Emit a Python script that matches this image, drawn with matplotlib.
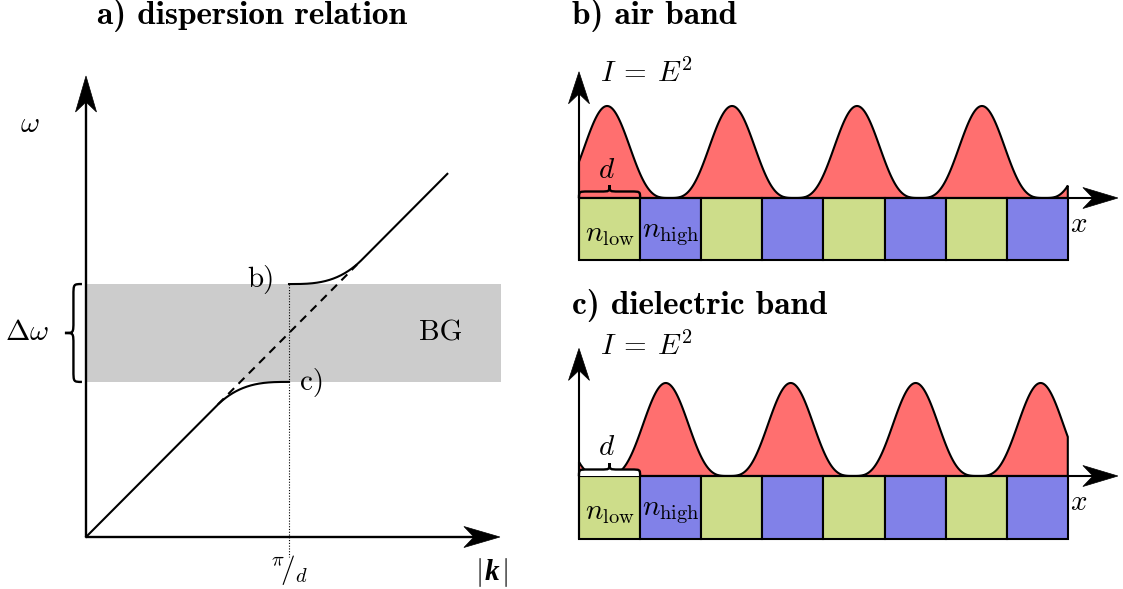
import numpy as np
import matplotlib
matplotlib.use("Agg")
import matplotlib.pyplot as plt
from matplotlib.patches import Rectangle, Polygon, PathPatch
from matplotlib.path import Path
from matplotlib.transforms import ScaledTranslation

plt.rcParams['font.family'] = 'serif'
plt.rcParams['font.serif'] = ['cmr10']
plt.rcParams['mathtext.fontset'] = 'cm'
plt.rcParams['axes.unicode_minus'] = False

W, H = 1123, 589

# dispersion relation, k in units of pi/d
k_zone = 1.0
gap_lo, gap_hi = 0.764, 1.246
k_bend = 0.36
k_max = 1.78
dash_k = [0.65, 1.335]
band_k_max = 2.045
c_light = (gap_lo + gap_hi) / 2 / k_zone

# layered stack, x in units of d
n_cells = 8
cell_colors = ['#cddd8a', '#8181e8']
cell_depth = 0.675
period = 2.045
air_peak0 = 0.46
diel_peak0 = 1.42
peak_power = 3.4

red = '#ff6f6f'
LW = 1.5

fig = plt.figure(figsize=(W / 100, H / 100), dpi=100)


def panel_axes(origin, sx, sy, xlim, ylim):
    x0, y0 = origin
    left = x0 + xlim[0] * sx
    bottom = y0 - ylim[0] * sy
    w = (xlim[1] - xlim[0]) * sx
    h = (ylim[1] - ylim[0]) * sy
    ax = fig.add_axes([left / W, 1 - bottom / H, w / W, h / H])
    ax.set_xlim(xlim)
    ax.set_ylim(ylim)
    ax.axis('off')
    return ax


def arrow_head(ax, x, y, direction, length=36, width=21, notch=10):
    dx, dy = direction
    px, py = -dy, dx
    verts = [(0, 0),
             (-dx * length + px * width / 2, -dy * length + py * width / 2),
             (-dx * (length - notch), -dy * (length - notch)),
             (-dx * length - px * width / 2, -dy * length - py * width / 2)]
    ax.add_patch(Polygon(verts, closed=True, fc='k', ec='k', lw=0.5, zorder=5,
                         transform=ScaledTranslation(x, y, ax.transData),
                         clip_on=False))


def brace(ax, p0, p1, depth, vertical=False, fill='none'):
    a = ax.transData.transform(p0)
    b = ax.transData.transform(p1)
    L = np.hypot(*(b - a))
    r = depth / 2
    s = depth * 0.7   # length taken by each curl
    uv = [(0, 0), (0, r), (0, r), (s, r),
          (L / 2 - s, r),
          (L / 2, r), (L / 2, r), (L / 2, depth),
          (L / 2, r), (L / 2, r), (L / 2 + s, r),
          (L - s, r),
          (L, r), (L, r), (L, 0)]
    C = Path.CURVE4
    codes = [Path.MOVETO, C, C, C, Path.LINETO, C, C, C, C, C, C,
             Path.LINETO, C, C, C]
    if vertical:
        verts = [(-v, u) for u, v in uv]
    else:
        verts = [(u, v) for u, v in uv]
    ax.add_patch(PathPatch(Path(verts, codes), fc=fill, ec='k', lw=LW + 0.2, zorder=6,
                           transform=ScaledTranslation(p0[0], p0[1], ax.transData),
                           clip_on=False))


def branch(k, sign):
    # smooth bend from the light line onto the flat band edge at the zone boundary
    delta = (gap_hi - gap_lo) / 2
    t = np.clip(np.abs(k - k_zone) / k_bend, 0, 1)
    h00 = 2 * t**3 - 3 * t**2 + 1
    h10 = t**3 - 2 * t**2 + t
    g = delta * h00 - c_light * k_bend * h10
    return c_light * k + sign * g


# ---- a) dispersion relation ----
ax = panel_axes((86, 537), 203, 203, (-0.45, 2.1), (-0.25, 2.3))
ax.add_patch(Rectangle((0, gap_lo), band_k_max, gap_hi - gap_lo,
                       fc='#cccccc', ec='none', zorder=0))
k_low = np.linspace(0, k_zone, 300)
k_up = np.linspace(k_zone, k_max, 300)
ax.plot(k_low, branch(k_low, -1), 'k', lw=LW, zorder=3)
ax.plot(k_up, branch(k_up, +1), 'k', lw=LW, zorder=3)
ax.plot(dash_k, [c_light * k for k in dash_k], 'k', lw=LW, ls=(0, (4, 3)), zorder=3)
ax.plot([k_zone, k_zone], [gap_hi, -0.1], 'k', lw=0.8, ls=(0, (1, 1.5)), zorder=2)

x_tip, y_tip = 2.039, 2.271
ax.plot([0, x_tip - 0.05], [0, 0], 'k', lw=LW + 0.2, solid_capstyle='butt', zorder=4)
ax.plot([0, 0], [0, y_tip - 0.05], 'k', lw=LW + 0.2, solid_capstyle='butt', zorder=4)
arrow_head(ax, x_tip, 0, (1, 0))
arrow_head(ax, 0, y_tip, (0, 1))
brace(ax, (-0.02, gap_lo), (-0.02, gap_hi), 17, vertical=True)

ax.text(-0.276, 2.03, r'$\omega$', fontsize=21, ha='center', va='center')
ax.text(-0.29, (gap_lo + gap_hi) / 2, r'$\Delta\omega$', fontsize=21,
        ha='center', va='center')
ax.text(1.75, (gap_lo + gap_hi) / 2, 'BG', fontsize=21, ha='center', va='center')
ax.text(0.93, 1.27, 'b)', fontsize=21, ha='right', va='center')
ax.text(1.054, 0.76, 'c)', fontsize=21, ha='left', va='center')
ax.text(k_zone, -0.165, r'${}^{\pi}\!/_{d}$', fontsize=21, ha='center', va='center')
ax.annotate('k', (2.0, -0.177), xytext=(0, 0), textcoords='offset pixels',
            fontsize=21, family='Liberation Serif', weight='bold', style='italic',
            ha='center', va='center')
ax.annotate(r'$|$', (2.0, -0.177), xytext=(-10, 0), textcoords='offset pixels',
            fontsize=21, ha='right', va='center')
ax.annotate(r'$|$', (2.0, -0.177), xytext=(9, 0), textcoords='offset pixels',
            fontsize=21, ha='left', va='center')


# ---- b) / c) field intensity over the layered stack ----
def stack_panel(y_origin, sy, peak0, label_y, white_brace):
    ax = panel_axes((579, y_origin), 61.1, sy, (-0.05, 9.0), (-0.75, 1.45))
    x = np.linspace(0, n_cells, 1200)
    inten = np.abs(np.cos(np.pi * (x - peak0) / period)) ** peak_power
    ax.fill(np.r_[0, x, n_cells], np.r_[0, inten, 0], fc=red, ec='k', lw=LW, zorder=1)
    for i in range(n_cells):
        ax.add_patch(Rectangle((i, -cell_depth), 1, cell_depth, fc=cell_colors[i % 2],
                               ec='k', lw=LW, zorder=2))
    x_tip, y_tip = 8.82, 1.372
    ax.plot([0, x_tip - 0.3], [0, 0], 'k', lw=LW, solid_capstyle='butt', zorder=4)
    ax.plot([0, 0], [-cell_depth, y_tip - 0.2], 'k', lw=LW, solid_capstyle='butt', zorder=4)
    arrow_head(ax, x_tip, 0, (1, 0), length=35)
    arrow_head(ax, 0, y_tip, (0, 1), length=32)
    brace(ax, (0, 0), (1, 0), 13, fill='white' if white_brace else 'none')

    ax.text(0.34, label_y, r'$I\:=\:E^2$', fontsize=21, ha='left', va='center')
    ax.text(0.45, 0.30, r'$d$', fontsize=21, ha='center', va='center')
    ax.text(0.5, -0.40, r'$n_{\rm low}$', fontsize=21, ha='center', va='center')
    ax.text(1.03, -0.40, r'$n_{\rm high}$', fontsize=21, ha='left', va='center')
    ax.text(8.18, -0.29, r'$x$', fontsize=21, ha='center', va='center')


stack_panel(198, 92, air_peak0, 1.35, False)
stack_panel(476, 93, diel_peak0, 1.39, True)

fig.text(252 / W, 1 - 16 / H, 'a) dispersion relation', family='cmb10',
         fontsize=24, ha='center', va='center')
fig.text(572 / W, 1 - 16 / H, 'b) air band', family='cmb10',
         fontsize=24, ha='left', va='center')
fig.text(572 / W, 1 - 306 / H, 'c) dielectric band', family='cmb10',
         fontsize=24, ha='left', va='center')

fig.savefig('out.png', dpi=100)
